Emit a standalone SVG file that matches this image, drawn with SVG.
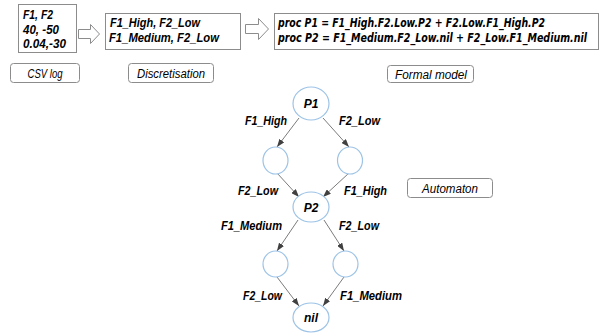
<svg xmlns="http://www.w3.org/2000/svg" width="608" height="335" viewBox="0 0 608 335">
<style>
.box{fill:#fff;stroke:#8c8c8c;stroke-width:1}
.lbl{fill:#fff;stroke:#8c8c8c;stroke-width:1}
.bt{font-family:"Liberation Sans",Arial,sans-serif;font-weight:bold;font-style:italic;font-size:12px;fill:#000}
.nb{font-family:"Liberation Sans Narrow","DejaVu Sans Condensed","Liberation Sans",Arial,sans-serif;font-weight:bold;font-style:italic;font-size:12px;fill:#000}
.it{font-family:"Liberation Sans",Arial,sans-serif;font-style:italic;font-size:12.5px;fill:#000}
.st{fill:#fff;stroke:#9dc3e6;stroke-width:1.2}
.edge{stroke:#595959;stroke-width:0.8;fill:none;marker-end:url(#ah)}
.blk{fill:#fff;stroke:#8c8c8c;stroke-width:1}
</style>
<defs>
<marker id="ah" viewBox="0 0 8 6" refX="8" refY="3" markerWidth="8" markerHeight="6" markerUnits="userSpaceOnUse" orient="auto">
<path d="M0,0 L8,3 L0,6 Z" fill="#404040"/>
</marker>
</defs>
<rect width="608" height="335" fill="#fff"/>

<g id="csv">
<rect class="box" x="18.5" y="4.5" width="58" height="48"/>
<text class="bt" x="23" y="19" textLength="30" lengthAdjust="spacingAndGlyphs">F1, F2</text>
<text class="bt" x="23" y="34" textLength="36" lengthAdjust="spacingAndGlyphs">40, -50</text>
<text class="bt" x="23" y="48" textLength="43" lengthAdjust="spacingAndGlyphs">0.04,-30</text>
</g>
<g id="csv-label">
<rect class="lbl" x="10.5" y="63.5" width="69" height="19" rx="3"/>
<text class="it" x="45" y="78" text-anchor="middle" textLength="35" lengthAdjust="spacingAndGlyphs">CSV log</text>
</g>

<g id="arrow1">
<path class="blk" d="M78.5,29.5 H90.5 V24.5 L99.5,34 L90.5,43.5 V38.5 H78.5 Z"/>
</g>

<g id="disc">
<rect class="box" x="105.5" y="13.5" width="135" height="36"/>
<text class="bt" x="110" y="27" textLength="90" lengthAdjust="spacingAndGlyphs">F1_High, F2_Low</text>
<text class="bt" x="109" y="42" textLength="110" lengthAdjust="spacingAndGlyphs">F1_Medium, F2_Low</text>
</g>
<g id="disc-label">
<rect class="lbl" x="128.5" y="63.5" width="85" height="19" rx="3"/>
<text class="it" x="171" y="78" text-anchor="middle" textLength="68" lengthAdjust="spacingAndGlyphs">Discretisation</text>
</g>

<g id="arrow2">
<path class="blk" d="M245.5,24.5 H258.5 V18.5 L268.5,29 L258.5,39.5 V33.5 H245.5 Z"/>
</g>

<g id="formal">
<rect class="box" x="274.5" y="13.5" width="324" height="36"/>
<text class="nb" x="278" y="27" textLength="267" lengthAdjust="spacingAndGlyphs">proc P1 = F1_High.F2.Low.P2 + F2.Low.F1_High.P2</text>
<text class="nb" x="278" y="42" textLength="309" lengthAdjust="spacingAndGlyphs">proc P2 = F1_Medium.F2_Low.nil + F2_Low.F1_Medium.nil</text>
</g>
<g id="formal-label">
<rect class="lbl" x="387.5" y="65.5" width="86" height="17" rx="3"/>
<text class="it" x="431" y="78.5" text-anchor="middle" textLength="72" lengthAdjust="spacingAndGlyphs">Formal model</text>
</g>

<g id="automaton-label">
<rect class="lbl" x="407.5" y="178.5" width="85" height="19" rx="3"/>
<text class="it" x="450" y="192.5" text-anchor="middle" textLength="56" lengthAdjust="spacingAndGlyphs">Automaton</text>
</g>

<g id="connectors">
<line class="edge" x1="299" y1="118" x2="277" y2="147"/>
<line class="edge" x1="323" y1="118" x2="349" y2="147"/>
<line class="edge" x1="277" y1="173" x2="299" y2="197"/>
<line class="edge" x1="349" y1="173" x2="323" y2="197"/>
<line class="edge" x1="298" y1="220" x2="277" y2="251"/>
<line class="edge" x1="324" y1="220" x2="344" y2="251"/>
<line class="edge" x1="277" y1="277" x2="299" y2="306"/>
<line class="edge" x1="344" y1="277" x2="323" y2="306"/>
<text class="bt" x="245" y="125" textLength="42" lengthAdjust="spacingAndGlyphs">F1_High</text>
<text class="bt" x="339" y="125" textLength="41" lengthAdjust="spacingAndGlyphs">F2_Low</text>
<text class="bt" x="238" y="195" textLength="40" lengthAdjust="spacingAndGlyphs">F2_Low</text>
<text class="bt" x="344" y="195" textLength="43" lengthAdjust="spacingAndGlyphs">F1_High</text>
<text class="bt" x="221" y="230" textLength="61" lengthAdjust="spacingAndGlyphs">F1_Medium</text>
<text class="bt" x="339" y="230" textLength="40" lengthAdjust="spacingAndGlyphs">F2_Low</text>
<text class="bt" x="243" y="300" textLength="39" lengthAdjust="spacingAndGlyphs">F2_Low</text>
<text class="bt" x="340" y="300" textLength="62" lengthAdjust="spacingAndGlyphs">F1_Medium</text>
</g>

<g id="P1">
<ellipse class="st" cx="311" cy="103.5" rx="18" ry="16.5"/>
<text class="bt" x="311" y="108" text-anchor="middle">P1</text>
</g>
<g id="s1">
<ellipse class="st" cx="275.5" cy="160.5" rx="12.5" ry="13.5"/>
</g>
<g id="s2">
<ellipse class="st" cx="350" cy="160.5" rx="12.5" ry="13.5"/>
</g>
<g id="P2">
<ellipse class="st" cx="311" cy="207" rx="18" ry="15"/>
<text class="bt" x="311" y="211.5" text-anchor="middle">P2</text>
</g>
<g id="s3">
<ellipse class="st" cx="275.5" cy="264" rx="12.5" ry="13"/>
</g>
<g id="s4">
<ellipse class="st" cx="345.5" cy="264" rx="12.5" ry="13"/>
</g>
<g id="nil">
<ellipse class="st" cx="311" cy="317.5" rx="18" ry="14.5"/>
<text class="bt" x="311" y="322" text-anchor="middle">nil</text>
</g>
</svg>
